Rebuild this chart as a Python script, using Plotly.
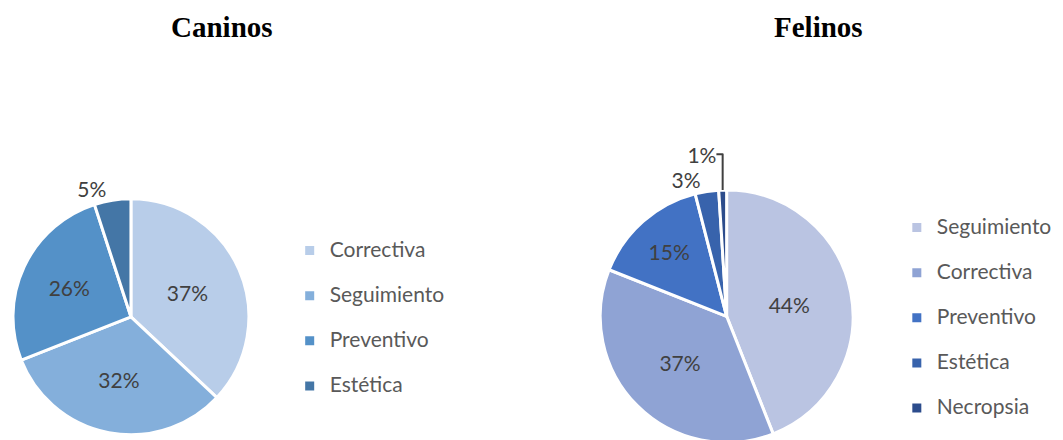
import plotly.graph_objects as go

# Caninos
can_labels = ["Correctiva", "Seguimiento", "Preventivo", "Estética"]
can_values = [37, 32, 26, 5]
can_colors = ["#B8CDE9", "#84AFDB", "#5491C8", "#4476A6"]
can_pos = ["inside", "inside", "inside", "outside"]

# Felinos
fel_labels = ["Seguimiento", "Correctiva", "Preventivo", "Estética", "Necropsia"]
fel_values = [44, 37, 15, 3, 1]
fel_colors = ["#BAC4E2", "#8FA3D4", "#4272C4", "#3863AC", "#2C4C8C"]
fel_pos = ["inside", "inside", "inside", "outside", "outside"]

W, H = 1063, 440
OFF = 8  # page body margin, the figure starts 8px in
FONT = "Lato"
TXT = "#404040"


def px(x):
    return (x - OFF) / W


def py(y):
    return 1 - (y - OFF) / H


def spaced(labels, tail):
    # bigger text on the first line, blank second line -> wider legend rows
    return ["<span style='font-size:21px'>%s</span><br>%s" % (l, tail) for l in labels]


fig = go.Figure()
fig.add_trace(go.Pie(
    labels=spaced(can_labels, " "), values=can_values, sort=False, direction="clockwise",
    rotation=0, marker=dict(colors=can_colors, line=dict(color="white", width=3)),
    textinfo="percent", textposition=can_pos, insidetextorientation="horizontal",
    textfont=dict(family=FONT, size=21, color=TXT),
    domain=dict(x=[px(8), px(245)], y=[py(436), py(199)]),
    legend="legend", hoverinfo="percent",
))
fig.add_trace(go.Pie(
    labels=spaced(fel_labels, "&nbsp;"), values=fel_values, sort=False, direction="clockwise",
    rotation=0, marker=dict(colors=fel_colors, line=dict(color="white", width=3)),
    textinfo="percent", textposition=fel_pos, insidetextorientation="horizontal",
    textfont=dict(family=FONT, size=21, color=TXT),
    domain=dict(x=[px(598), px(852)], y=[py(444), py(190)]),
    legend="legend2", hoverinfo="percent",
))

leg = dict(font=dict(family=FONT, size=16.2, color="#595959"), xanchor="left", yanchor="top",
           valign="top", bgcolor="rgba(0,0,0,0)")
fig.update_layout(
    width=W, height=H, margin=dict(l=0, r=0, t=0, b=0),
    paper_bgcolor="white", plot_bgcolor="white",
    legend=dict(x=px(286), y=py(234), **leg),
    legend2=dict(x=px(896), y=py(211), **leg),
    annotations=[
        dict(text="<b>Caninos</b>", x=px(218), y=py(27), xref="paper", yref="paper",
             xanchor="center", yanchor="middle", showarrow=False,
             font=dict(family="Liberation Serif", size=29, color="black")),
        dict(text="<b>Felinos</b>", x=px(817), y=py(27), xref="paper", yref="paper",
             xanchor="center", yanchor="middle", showarrow=False,
             font=dict(family="Liberation Serif", size=29, color="black")),
    ],
)

fig.write_html("out.html")
